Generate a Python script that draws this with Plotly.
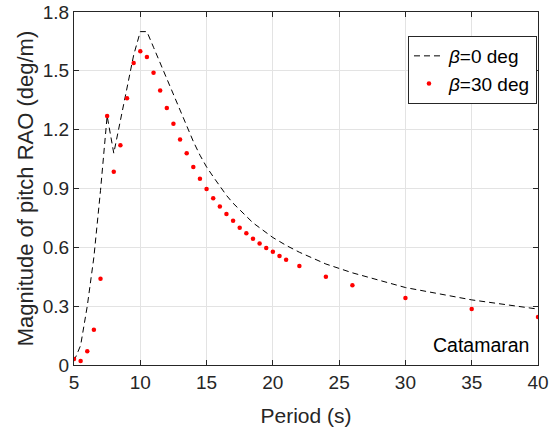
import plotly.graph_objects as go

period = [5, 5.5, 6, 6.5, 7, 7.5, 8, 8.5, 9, 9.5, 10, 10.5, 11, 11.5, 12, 12.5, 13, 13.5,
          14, 14.5, 15, 15.5, 16, 16.5, 17, 17.5, 18, 18.5, 19, 19.5, 20, 20.5, 21, 22,
          24, 26, 30, 35, 40]
rao_beta0 = [0.02, 0.10, 0.30, 0.55, 0.89, 1.27, 1.08, 1.25, 1.42, 1.58, 1.70, 1.70, 1.62,
             1.54, 1.46, 1.38, 1.30, 1.22, 1.14, 1.07, 1.01, 0.96, 0.91, 0.865, 0.825, 0.79,
             0.755, 0.725, 0.70, 0.675, 0.65, 0.63, 0.61, 0.575, 0.515, 0.47, 0.395, 0.332,
             0.285]
rao_beta30 = [0.03, 0.02, 0.07, 0.18, 0.44, 1.27, 0.985, 1.12, 1.36, 1.54, 1.60, 1.57, 1.49,
              1.40, 1.31, 1.23, 1.15, 1.08, 1.01, 0.95, 0.898, 0.85, 0.808, 0.77, 0.735,
              0.70, 0.672, 0.644, 0.619, 0.597, 0.577, 0.556, 0.537, 0.505, 0.45, 0.407,
              0.342, 0.286, 0.245]

x_ticks = [5, 10, 15, 20, 25, 30, 35, 40]
y_ticks = [0, 0.3, 0.6, 0.9, 1.2, 1.5, 1.8]
y_tick_labels = ["0", "0.3", "0.6", "0.9", "1.2", "1.5", "1.8"]

FONT = "Liberation Sans, Arial, Helvetica, sans-serif"
AX = "#262626"

fig = go.Figure()
fig.add_trace(go.Scatter(x=period, y=rao_beta0, mode="lines",
                         line=dict(color="black", width=1, dash="6px,4px"),
                         name="<i>β</i>=0 deg"))
fig.add_trace(go.Scatter(x=period, y=rao_beta30, mode="markers",
                         marker=dict(color="red", size=4.5),
                         name="<i>β</i>=30 deg"))

fig.add_annotation(x=1.0, y=0.0, xref="paper", yref="paper", xanchor="right", yanchor="bottom",
                   xshift=-7, yshift=7, text="Catamaran", showarrow=False,
                   font=dict(family=FONT, size=19.5, color="black"))

axis_common = dict(showline=True, linecolor=AX, linewidth=1, mirror="ticks",
                   ticks="inside", ticklen=5, tickcolor=AX, automargin=False,
                   showgrid=True, gridcolor="#e3e3e3", gridwidth=1, zeroline=False,
                   tickfont=dict(family=FONT, size=19, color=AX))

fig.update_xaxes(range=[5, 40], tickvals=x_ticks, title_text="Period (s)",
                 title_standoff=16, title_font=dict(family=FONT, size=21, color=AX),
                 **axis_common)
fig.update_yaxes(range=[0, 1.8], tickvals=y_ticks, ticktext=y_tick_labels,
                 title_text="Magnitude of pitch RAO (deg/m)", title_standoff=3,
                 title_font=dict(family=FONT, size=22, color=AX), **axis_common)

fig.update_layout(width=557, height=431, margin=dict(l=74, r=19, t=12, b=66),
                  plot_bgcolor="white", paper_bgcolor="white",
                  font=dict(family=FONT, color=AX), hovermode=False,
                  legend=dict(x=0.7198, y=0.932, xanchor="left", yanchor="top",
                              bgcolor="white", bordercolor=AX, borderwidth=1,
                              font=dict(family=FONT, size=19, color="black"),
                              tracegroupgap=0, itemwidth=30))

fig.write_html("out.html", config={"displayModeBar": False},
               post_script="document.body.style.margin='0';document.body.style.overflow='hidden';")
